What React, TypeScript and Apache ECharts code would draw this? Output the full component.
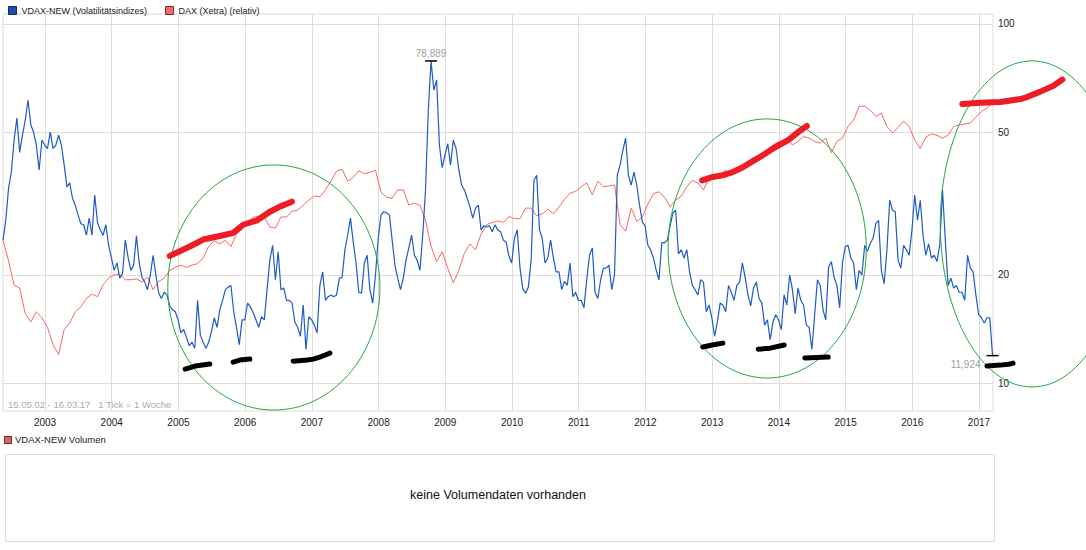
import React, { useEffect, useRef } from "react";
import * as echarts from "echarts";

// ---- time frame (decimal years) ----
const START = 2002.37; // 15.05.02
const END = 2017.21; // 16.03.17
const YEAR_TICKS = [2003, 2004, 2005, 2006, 2007, 2008, 2009, 2010, 2011, 2012, 2013, 2014, 2015, 2016, 2017];
const VALUE_TICKS = [10, 20, 50, 100];

// ---- VDAX-NEW, half-monthly samples ----
const VDAX_2002_2006 = [
  25.0, 28.4, 34.9, 38.7, 47.5, 54.7, 43.9, 49.0, 54.0, 61.4,
  52.3, 50.0, 46.0, 39.2, 47.5, 46.0, 45.0, 50.0, 45.0, 46.0,
  49.0, 46.0, 40.5, 35.2, 36.1, 32.7, 31.3, 29.4, 27.8, 27.6,
  25.8, 28.8, 25.8, 33.4, 28.0, 26.7, 25.8, 27.6, 24.2, 22.3,
  20.6, 21.6, 19.6, 20.2, 25.0, 22.4, 20.6, 21.3, 25.7, 21.6,
  19.7, 19.1, 18.2, 20.0, 22.7, 20.0, 17.8, 17.2, 17.9, 17.6,
  16.4, 16.0, 15.8, 15.0, 13.8, 14.1, 13.4, 12.7, 13.0, 12.5,
  17.0, 13.6, 13.0, 12.5, 13.0, 13.9, 15.2, 14.3, 16.0, 17.0,
  18.2, 18.5, 18.7, 15.8, 14.3, 12.8, 15.0, 15.0, 16.7, 16.3,
  15.7, 15.0, 14.3, 15.3, 15.0, 18.2, 22.0, 24.2, 19.4, 23.2,
];
const VDAX_2006_2010 = [
  18.2, 18.4, 17.0, 17.0, 16.7, 14.8, 14.3, 13.5, 16.5, 12.4,
  15.3, 15.0, 14.5, 13.8, 18.7, 20.4, 17.0, 17.4, 17.6, 17.4,
  17.6, 19.6, 19.7, 23.5, 25.8, 28.8, 24.7, 21.6, 17.9, 17.8,
  21.6, 22.7, 18.2, 16.7, 20.0, 25.3, 29.4, 30.0, 29.8, 29.4,
  25.0, 21.3, 19.6, 18.2, 19.6, 22.0, 23.8, 25.8, 22.7, 22.0,
  20.6, 25.8, 34.5, 57.5, 78.889, 65.4, 69.8, 46.0, 39.8, 43.1,
  46.4, 40.5, 47.5, 45.0, 39.2, 35.6, 34.5, 32.7, 30.9, 28.8,
  30.7, 31.3, 26.7, 27.4, 27.2, 27.4, 26.4, 27.6, 26.7, 26.4,
  25.0, 24.7, 22.6, 21.6, 25.3, 26.7, 20.9, 18.3, 17.8, 18.5,
  22.0, 36.7, 37.9, 26.7, 25.3, 21.6, 22.3, 25.0, 22.3, 20.4,
];
const VDAX_2010_2014 = [
  20.4, 18.2, 19.2, 18.7, 21.6, 17.4, 17.9, 17.0, 17.0, 16.2,
  19.4, 22.7, 23.8, 17.9, 17.2, 19.4, 20.9, 20.9, 21.3, 18.2,
  20.0, 37.9, 40.5, 44.5, 48.1, 37.9, 35.6, 38.7, 35.6, 31.3,
  28.1, 27.4, 24.2, 23.5, 22.3, 20.6, 19.4, 24.6, 24.6, 25.0,
  27.4, 29.8, 30.3, 22.9, 23.5, 22.3, 23.5, 20.4, 18.7, 18.2,
  17.6, 19.4, 19.1, 15.8, 16.5, 15.2, 13.5, 14.8, 16.7, 16.5,
  15.8, 18.7, 17.9, 17.0, 18.7, 19.1, 21.6, 19.7, 17.6, 16.4,
  18.4, 19.1, 17.2, 16.7, 14.5, 15.0, 13.2, 14.8, 15.5, 15.0,
  14.1, 17.6, 16.5, 20.0, 18.2, 15.6, 18.4, 17.0, 16.5, 14.5,
  14.3, 12.4, 15.5, 19.4, 18.7, 16.0, 15.0, 21.0, 21.8, 19.7,
];
const VDAX_2014_2017 = [
  18.7, 16.2, 21.6, 24.0, 24.2, 22.3, 21.6, 18.2, 20.6, 20.0,
  24.2, 23.3, 24.5, 25.3, 27.8, 28.4, 20.6, 18.9, 23.5, 32.3,
  30.3, 30.0, 22.0, 20.9, 24.2, 23.5, 22.7, 26.7, 33.4, 28.4,
  32.3, 25.7, 22.7, 24.4, 22.3, 22.7, 21.8, 24.2, 34.5, 25.0,
  18.7, 19.6, 18.4, 18.7, 17.9, 17.9, 17.0, 22.7, 20.9, 20.4,
  17.6, 15.5, 15.2, 14.7, 15.2, 15.2, 11.924,
];

// ---- DAX (Xetra), relative to the VDAX start value, monthly samples ----
const DAX_RELATIVE = [
  25.0, 21.9, 18.7, 18.4, 15.6, 14.8, 15.8, 15.2, 14.3, 12.8,
  12.0, 14.1, 14.7, 15.8, 16.3, 17.2, 17.7, 17.4, 18.8, 19.6,
  20.0, 20.1, 19.4, 19.4, 19.5, 19.1, 19.7, 18.2, 19.2, 19.6,
  20.6, 21.0, 21.3, 21.0, 21.3, 21.5, 22.3, 24.0, 24.9, 24.4,
  25.0, 24.0, 26.0, 26.8, 27.9, 29.0, 29.1, 29.0, 27.2, 27.0,
  29.0, 29.0, 30.1, 30.3, 31.3, 32.3, 33.2, 33.0, 34.5, 36.5,
  38.9, 39.4, 36.5, 37.4, 39.0, 38.3, 38.6, 39.2, 34.0, 32.9,
  32.7, 34.5, 34.5, 31.3, 31.7, 31.3, 28.4, 24.0, 21.8, 23.2,
  20.9, 19.0, 20.6, 23.0, 24.4, 23.5, 26.0, 27.6, 28.0, 28.3,
  28.0, 29.1, 28.7, 28.7, 30.7, 30.7, 29.2, 29.6, 30.5, 29.6,
  30.9, 32.5, 33.8, 34.2, 35.2, 36.1, 33.4, 36.5, 35.2, 35.4,
  35.6, 27.6, 26.5, 30.7, 28.2, 29.0, 31.5, 33.7, 34.1, 32.9,
  31.0, 32.3, 33.2, 35.2, 36.7, 36.1, 34.5, 37.2, 37.9, 37.9,
  39.2, 37.7, 39.2, 39.7, 40.5, 41.3, 42.5, 43.5, 45.0, 46.6,
  47.1, 48.1, 46.0, 47.1, 48.6, 48.1, 47.1, 46.6, 48.1, 43.8,
  47.1, 48.1, 51.8, 54.0, 59.0, 59.0, 57.5, 55.3, 56.4, 51.8,
  49.7, 51.5, 53.7, 51.8, 47.5, 45.0, 48.4, 49.4, 49.0, 48.1,
  49.0, 51.8, 52.3, 52.6, 53.0, 55.0, 57.0, 58.3, 60.4,
];

// ---- hand-drawn annotations (decimal year, value) ----
const RED_STROKES = [
  [[2004.87, 22.6], [2005.17, 24.0], [2005.37, 25.1], [2005.67, 25.8], [2005.82, 26.2], [2005.97, 27.6], [2006.18, 28.4], [2006.37, 30.0], [2006.52, 31.0], [2006.7, 32.0]],
  [[2012.85, 36.7], [2013.01, 37.5], [2013.16, 37.9], [2013.31, 38.7], [2013.46, 39.9], [2013.61, 41.5], [2013.76, 43.1], [2013.91, 45.0], [2014.14, 47.5], [2014.29, 50.0], [2014.42, 52.0]],
  [[2016.75, 59.9], [2017.02, 60.3], [2017.32, 60.6], [2017.62, 61.8], [2017.72, 62.6], [2017.91, 64.7], [2018.11, 67.2], [2018.25, 70.0]],
];
const BLACK_STROKES = [
  [[2005.1, 10.94], [2005.25, 11.15], [2005.47, 11.3]],
  [[2005.82, 11.44], [2005.92, 11.59], [2006.07, 11.66]],
  [[2006.72, 11.51], [2006.93, 11.59], [2007.02, 11.66], [2007.12, 11.81], [2007.2, 11.97], [2007.27, 12.12]],
  [[2012.86, 12.6], [2013.0, 12.76], [2013.16, 12.92]],
  [[2013.69, 12.43], [2013.87, 12.51], [2014.08, 12.76]],
  [[2014.39, 11.74], [2014.74, 11.81]],
  [[2017.12, 11.15], [2017.32, 11.22], [2017.47, 11.3], [2017.51, 11.37]],
];
// [left year, right year, top value, bottom value]
const ELLIPSES = [
  [2004.84, 2008.02, 40.5, 8.41],
  [2012.34, 2015.31, 54.4, 10.33],
  [2016.42, 2019.17, 78.9, 9.75],
];

const VDAX_NAME = "VDAX-NEW (Volatilitätsindizes)";
const DAX_NAME = "DAX (Xetra) (relativ)";
const FONT = "'Liberation Sans', Arial, sans-serif";

const fmt = (v: number) => v.toFixed(3).replace(".", ",");

export default function App() {
  const ref = useRef<HTMLDivElement>(null);

  useEffect(() => {
    if (!ref.current) return;
    const chart = echarts.init(ref.current, undefined, { renderer: "svg" });

    const vdax = [...VDAX_2002_2006, ...VDAX_2006_2010, ...VDAX_2010_2014, ...VDAX_2014_2017];
    const vdaxData = vdax.map((v, i) => [START + i / 24, v]);
    const daxData = DAX_RELATIVE.map((v, i) => [START + i / 12, v]);
    const last = vdaxData[vdaxData.length - 1];

    // hand-drawn strokes as a custom series: each data item is one stroke
    const strokeSeries = (strokes: number[][][], color: string, width: number) => ({
      type: "custom",
      silent: true,
      clip: false,
      z: 6,
      data: strokes.map((s, i) => [s[0][0], s[0][1], i]),
      encode: { x: 0, y: 1 },
      renderItem: (params: any, api: any) => {
        const s = strokes[params.dataIndex];
        return {
          type: "polyline",
          shape: { points: s.map((p) => api.coord(p)) },
          style: { fill: "none", stroke: color, lineWidth: width, lineCap: "round", lineJoin: "round" },
        };
      },
    });

    const option: any = {
      animation: false,
      textStyle: { fontFamily: FONT },
      legend: {
        left: 3,
        top: 1,
        icon: "rect",
        itemWidth: 8,
        itemHeight: 8,
        itemGap: 18,
        itemTextGap: 4,
        selectedMode: false,
        textStyle: { fontSize: 9, color: "#222", fontFamily: FONT },
        data: [
          { name: VDAX_NAME, itemStyle: { color: "#1f4fb0", borderColor: "#16285a", borderWidth: 1 } },
          { name: DAX_NAME, itemStyle: { color: "#f06a6a", borderColor: "#7a2a2a", borderWidth: 1 } },
        ],
      },
      grid: {
        left: 3,
        top: 14,
        right: 93,
        bottom: 139,
        show: true,
        borderColor: "#dcdcdc",
        borderWidth: 1,
        backgroundColor: "#fff",
      },
      xAxis: {
        type: "value",
        min: START,
        max: END,
        axisLine: { show: false },
        axisTick: { show: false },
        splitLine: { show: false },
        axisLabel: {
          customValues: YEAR_TICKS,
          formatter: (v: number) => String(Math.round(v)),
          color: "#222",
          fontSize: 10,
          margin: 6,
          fontFamily: FONT,
        },
      },
      yAxis: {
        type: "log",
        logBase: 10,
        min: 8.36,
        max: 106.6,
        position: "right",
        axisLine: { show: false },
        axisTick: { show: false },
        axisLabel: { show: false },
        splitLine: { show: false },
      },
      series: [
        {
          name: "grid",
          type: "line",
          data: [],
          silent: true,
          z: 1,
          markLine: {
            silent: true,
            z: 1,
            symbol: ["none", "none"],
            animation: false,
            label: { show: false },
            emphasis: { disabled: true },
            lineStyle: { color: "#dcdcdc", width: 1, type: "solid" },
            data: [
              ...YEAR_TICKS.map((y) => ({ xAxis: y })),
              ...VALUE_TICKS.map((v) => ({
                yAxis: v,
                label: {
                  show: true,
                  position: "end",
                  formatter: String(v),
                  color: "#222",
                  fontSize: 10,
                  distance: 5,
                  fontFamily: FONT,
                },
              })),
            ],
          },
        },
        {
          name: DAX_NAME,
          type: "line",
          data: daxData,
          symbol: "none",
          z: 2,
          color: "#ff6464",
          lineStyle: { color: "#ff6464", width: 1 },
        },
        {
          name: VDAX_NAME,
          type: "line",
          data: vdaxData,
          symbol: "none",
          z: 3,
          color: "#1f5bc4",
          lineStyle: { color: "#1f5bc4", width: 1.2 },
          markPoint: {
            silent: true,
            symbol: "rect",
            symbolSize: [12, 1.5],
            itemStyle: { color: "#000" },
            label: { color: "#a0a0a0", fontSize: 10, fontFamily: FONT },
            data: [
              {
                type: "max",
                label: { position: "top", distance: 2, formatter: (p: any) => fmt(p.value) },
              },
              {
                coord: last,
                value: last[1],
                label: { position: "left", offset: [-1, 9], formatter: (p: any) => fmt(p.value) },
              },
            ],
          },
        },
        {
          type: "custom",
          silent: true,
          clip: false,
          z: 5,
          data: ELLIPSES,
          encode: { x: [0, 1], y: [2, 3] },
          renderItem: (_params: any, api: any) => {
            const p1 = api.coord([api.value(0), api.value(2)]);
            const p2 = api.coord([api.value(1), api.value(3)]);
            return {
              type: "ellipse",
              shape: {
                cx: (p1[0] + p2[0]) / 2,
                cy: (p1[1] + p2[1]) / 2,
                rx: Math.abs(p2[0] - p1[0]) / 2,
                ry: Math.abs(p2[1] - p1[1]) / 2,
              },
              style: { fill: "none", stroke: "#22a844", lineWidth: 1 },
            };
          },
        },
        strokeSeries(RED_STROKES, "#ee1c24", 6),
        strokeSeries(BLACK_STROKES, "#000", 5),
      ],
      graphic: [
        {
          type: "text",
          left: 8,
          top: 399,
          silent: true,
          style: { text: "15.05.02 - 16.03.17   1 Tick = 1 Woche", fill: "#aaa", font: `9.5px ${FONT}` },
        },
        {
          type: "rect",
          left: 4,
          top: 436,
          silent: true,
          shape: { width: 7, height: 7 },
          style: { fill: "#e06060", stroke: "#6a2a2a", lineWidth: 1 },
        },
        {
          type: "text",
          left: 15,
          top: 434,
          silent: true,
          style: { text: "VDAX-NEW Volumen", fill: "#222", font: `9.5px ${FONT}` },
        },
        {
          type: "rect",
          left: 3,
          top: 452,
          silent: true,
          shape: { width: 989, height: 87 },
          style: { fill: "none", stroke: "#dcdcdc", lineWidth: 1 },
        },
        {
          type: "text",
          x: 498,
          y: 495,
          silent: true,
          style: {
            text: "keine Volumendaten vorhanden",
            fill: "#111",
            font: `12.5px ${FONT}`,
            textAlign: "center",
            textVerticalAlign: "middle",
          },
        },
      ],
    };

    chart.setOption(option);
    return () => chart.dispose();
  }, []);

  return (
    <div
      ref={ref}
      style={{ position: "fixed", left: 0, top: 0, width: 1086, height: 550, background: "#fff" }}
    />
  );
}
